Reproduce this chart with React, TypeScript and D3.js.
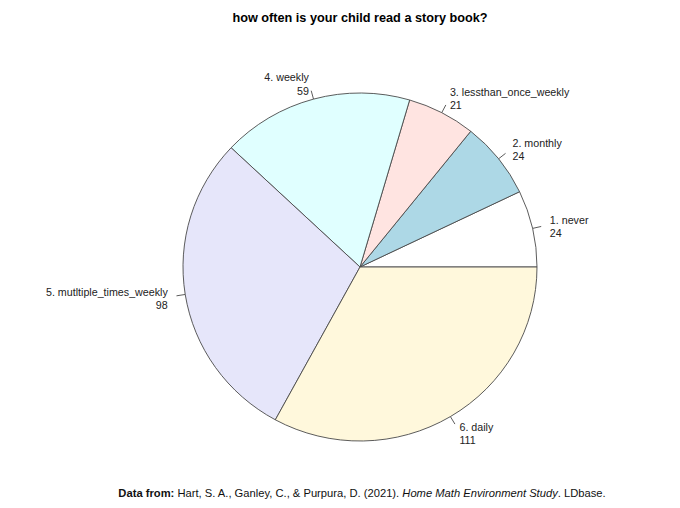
import * as d3 from "d3"
import { useEffect, useRef } from "react"

const categories = [
  "1. never",
  "2. monthly",
  "3. lessthan_once_weekly",
  "4. weekly",
  "5. mutltiple_times_weekly",
  "6. daily",
]
const counts = [24, 24, 21, 59, 98, 111]
const colors = ["#FFFFFF", "#ADD8E6", "#FFE4E1", "#E0FFFF", "#E6E6FA", "#FFF8DC"]

const WIDTH = 680
const HEIGHT = 508

const App = () => {
  const svgRef = useRef<SVGSVGElement>(null)

  useEffect(() => {
    if (!svgRef.current) return
    const svg = d3.select(svgRef.current)
    svg.selectAll("*").remove()

    const cx = 360
    const cy = 267
    const rx = 177
    const ry = 174
    const font = "'Liberation Sans', Arial, sans-serif"

    // R's pie(): starts at 3 o'clock, runs counterclockwise
    const pie = d3
      .pie<number>()
      .sort(null)
      .startAngle(Math.PI / 2)
      .endAngle(Math.PI / 2 - 2 * Math.PI)
    const arcs = pie(counts)
    const arc = d3.arc<d3.PieArcDatum<number>>().innerRadius(0).outerRadius(rx)

    const g = svg.append("g").attr("transform", `translate(${cx},${cy})`)

    g.append("g")
      .attr("transform", `scale(1, ${ry / rx})`)
      .selectAll("path.slice")
      .data(arcs)
      .join("path")
      .attr("class", "slice")
      .attr("d", arc)
      .attr("fill", (_, i) => colors[i])
      .attr("stroke", "#4a4a4a")
      .attr("stroke-width", 0.9)
      .attr("vector-effect", "non-scaling-stroke")

    arcs.forEach((d, i) => {
      const a = (d.startAngle + d.endAngle) / 2
      const sx = Math.sin(a)
      const sy = -Math.cos(a)
      g.append("line")
        .attr("x1", sx * rx)
        .attr("y1", sy * ry)
        .attr("x2", sx * rx * 1.05)
        .attr("y2", sy * ry * 1.05)
        .attr("stroke", "#4a4a4a")
        .attr("stroke-width", 0.9)
      const lx = sx * rx * 1.1
      const ly = sy * ry * 1.1
      const t = g
        .append("text")
        .attr("x", lx)
        .attr("y", ly)
        .attr("font-family", font)
        .attr("font-size", 10.7)
        .attr("fill", "#222")
        .attr("text-anchor", sx > 0 ? "start" : "end")
      t.append("tspan").attr("x", lx).attr("dy", "-0.08em").text(categories[i])
      t.append("tspan").attr("x", lx).attr("dy", "1.22em").text(String(counts[i]))
    })

    svg
      .append("text")
      .attr("x", 360)
      .attr("y", 22)
      .attr("text-anchor", "middle")
      .attr("font-family", font)
      .attr("font-weight", "bold")
      .attr("font-size", 12.7)
      .text("how often is your child read a story book?")

    const foot = svg
      .append("text")
      .attr("x", 362)
      .attr("y", 497)
      .attr("text-anchor", "middle")
      .attr("font-family", font)
      .attr("font-size", 11.2)
      .attr("fill", "#111")
    foot.append("tspan").attr("font-weight", "bold").text("Data from: ")
    foot.append("tspan").text("Hart, S. A., Ganley, C., & Purpura, D. (2021). ")
    foot.append("tspan").attr("font-style", "italic").text("Home Math Environment Study")
    foot.append("tspan").text(". LDbase.")
  }, [])

  return (
    <svg
      ref={svgRef}
      width={WIDTH}
      height={HEIGHT}
      style={{ position: "absolute", left: 0, top: 0, display: "block", background: "#fff" }}
    />
  )
}

export default App
